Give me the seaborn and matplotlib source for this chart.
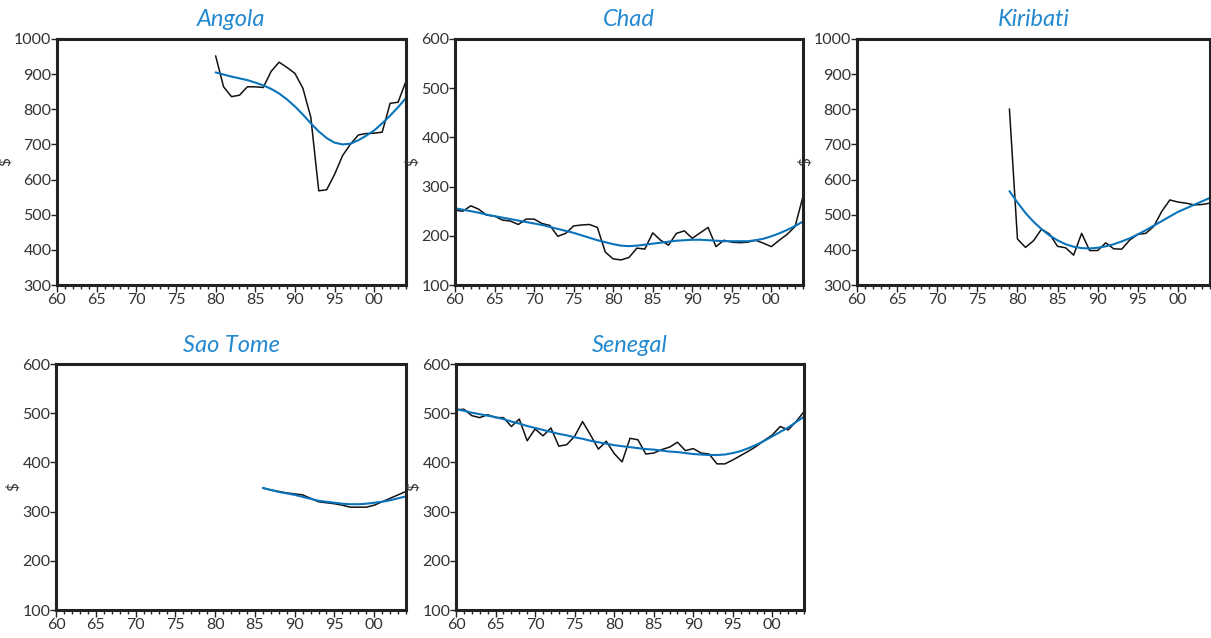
import numpy as np
import pandas as pd
import matplotlib.pyplot as plt
import seaborn as sns
from matplotlib.ticker import MultipleLocator, FuncFormatter

# Data (per-capita values, $)
angola_years = list(range(1980, 2005))
angola_actual = [952, 864, 836, 840, 864, 864, 862, 908, 934, 919, 902, 860, 777, 568,
                 571, 615, 668, 701, 727, 731, 732, 735, 817, 820, 880]
angola_trend = [905, 899, 893, 888, 883, 876, 868, 858, 845, 828, 808, 785, 760, 737,
                718, 705, 700, 702, 712, 725, 740, 760, 782, 806, 832]

chad_years = list(range(1960, 2005))
chad_actual = [252, 250, 261, 254, 242, 240, 232, 230, 223, 234, 234, 225, 221, 199, 205,
               220, 222, 223, 217, 167, 153, 151, 156, 175, 173, 206, 191, 181, 205, 210,
               195, 206, 217, 178, 191, 187, 186, 187, 191, 185, 178, 191, 203, 219, 280]
chad_trend = [256, 253, 250, 247, 243, 240, 237, 234, 231, 228, 225, 222, 218, 214, 210,
              206, 201, 196, 191, 187, 183, 180, 179, 180, 182, 184, 186, 188, 190, 191,
              192, 192, 191, 190, 189, 189, 189, 189, 191, 194, 199, 205, 212, 220, 229]

kiribati_years = list(range(1979, 2005))
kiribati_actual = [801, 431, 407, 426, 459, 445, 410, 406, 385, 447, 398, 398, 420, 403,
                   402, 428, 444, 447, 467, 510, 542, 536, 533, 528, 529, 533]
kiribati_trend = [567, 535, 505, 480, 459, 441, 427, 416, 409, 405, 404, 406, 410, 416,
                  424, 433, 444, 456, 469, 482, 495, 508, 518, 528, 538, 548]

saotome_years = list(range(1986, 2005))
saotome_actual = [348, 344, 341, 338, 336, 334, 327, 320, 318, 316, 313, 309, 309, 309,
                  313, 320, 327, 334, 341]
saotome_trend = [348, 344, 340, 337, 334, 330, 326, 322, 320, 318, 316, 315, 315, 316,
                 318, 320, 323, 327, 331]

senegal_years = list(range(1960, 2005))
senegal_actual = [507, 508, 495, 491, 497, 491, 491, 473, 488, 444, 468, 454, 470, 433, 436,
                  453, 483, 456, 427, 443, 418, 401, 449, 446, 417, 419, 426, 431, 441, 424,
                  428, 419, 417, 397, 397, 405, 414, 423, 433, 445, 456, 473, 466, 483, 503]
senegal_trend = [508, 505, 501, 498, 495, 492, 488, 483, 479, 474, 470, 466, 462, 458, 455,
                 451, 448, 444, 441, 438, 435, 433, 431, 429, 427, 426, 424, 422, 421, 419,
                 417, 416, 415, 415, 416, 419, 423, 429, 436, 444, 453, 462, 471, 482, 493]

panels = [
    ('Angola', angola_years, angola_actual, angola_trend, (300, 1000)),
    ('Chad', chad_years, chad_actual, chad_trend, (100, 600)),
    ('Kiribati', kiribati_years, kiribati_actual, kiribati_trend, (300, 1000)),
    ('Sao Tome', saotome_years, saotome_actual, saotome_trend, (100, 600)),
    ('Senegal', senegal_years, senegal_actual, senegal_trend, (100, 600)),
]

sns.set_style('white')
plt.rcParams['font.family'] = ['Lato', 'DejaVu Sans']

title_color = '#2389d0'
trend_color = '#0a74ba'
frame_color = '#222222'

fig = plt.figure(figsize=(12.11, 6.38), dpi=100)

# axes boxes in pixels: left, top, right, bottom
boxes = [(57, 39, 406, 285), (455, 39, 803, 285), (857, 39, 1210, 285),
         (56, 364, 406, 610), (456, 364, 804, 610)]
W, H = 1211, 638

for (name, years, actual, trend, ylim), (l, t, r, b) in zip(panels, boxes):
    ax = fig.add_axes([l / W, 1 - b / H, (r - l) / W, (b - t) / H])
    df = pd.DataFrame({'year': years, 'actual': actual, 'trend': trend})
    sns.lineplot(data=df, x='year', y='actual', ax=ax, color='#111111', linewidth=1.1)
    sns.lineplot(data=df, x='year', y='trend', ax=ax, color=trend_color, linewidth=1.5)
    ax.set_xlim(1960, 2004)
    ax.set_ylim(*ylim)
    ax.xaxis.set_major_locator(MultipleLocator(5))
    ax.xaxis.set_minor_locator(MultipleLocator(1))
    ax.xaxis.set_major_formatter(FuncFormatter(lambda v, p: '%02d' % (int(round(v)) % 100)))
    ax.yaxis.set_major_locator(MultipleLocator(100))
    ax.tick_params(axis='x', which='major', length=5, width=1, color=frame_color,
                   labelsize=11.5, labelcolor='#333333', pad=1, direction='out', bottom=True)
    ax.tick_params(axis='x', which='minor', length=3, width=1, color=frame_color,
                   direction='out', bottom=True)
    ax.tick_params(axis='y', which='major', length=4, width=1, color=frame_color,
                   labelsize=11.5, labelcolor='#333333', pad=0, direction='out', left=True)
    for s in ax.spines.values():
        s.set_color(frame_color)
        s.set_linewidth(2.2)
    ax.set_xlabel('')
    ax.set_ylabel('$', fontsize=11, color='#333333', labelpad=1)
    ax.set_title(name, fontsize=17, style='italic', color=title_color, pad=9)

plt.savefig('out.png', dpi=100)
